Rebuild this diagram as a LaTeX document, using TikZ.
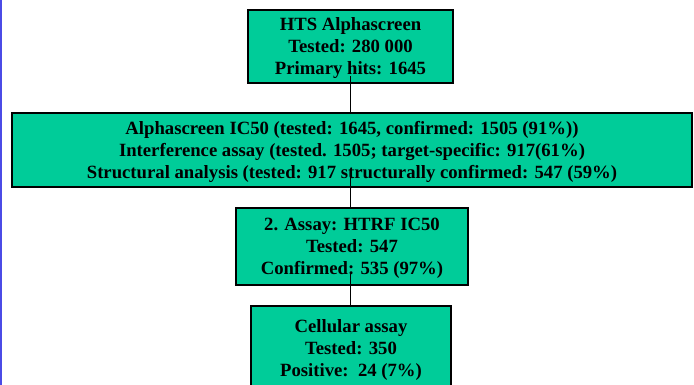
\documentclass[tikz,border=0pt]{standalone}
\usepackage{fontspec}
\setmainfont{Liberation Serif}
\definecolor{boxfill}{HTML}{00CC99}
\definecolor{edgeblue}{HTML}{4B4BE6}
\begin{document}
\begin{tikzpicture}[x=1pt,y=-1pt,
  stage/.style={draw=black, line width=2pt, fill=boxfill,
    font=\fontsize{18.7}{22}\selectfont\bfseries, align=center, inner sep=0pt,
    text depth=0pt},
  link/.style={draw=black, line width=1.2pt}]
\useasboundingbox (0,0) rectangle (694,385);
\fill[white] (0,0) rectangle (694,385);
\draw[edgeblue, line width=2pt] (1,0) -- (1,385);
\node[stage, minimum width=205, minimum height=73] (hts) at (350.5,46.5)
  {HTS Alphascreen\\Tested: 280 000\\Primary hits: 1645};
\node[stage, minimum width=680, minimum height=74] (ic) at (352,150)
  {Alphascreen IC50 (tested: 1645, confirmed: 1505 (91\%))\\
   Interference assay (tested. 1505; target-specific: 917(61\%)\\
   Structural analysis (tested: 917 structurally confirmed: 547 (59\%)};
\node[stage, minimum width=232, minimum height=77] (htrf) at (352,246.5)
  {2. Assay: HTRF IC50\\Tested: 547\\Confirmed: 535 (97\%)};
\node[stage, minimum width=200, minimum height=85] (cell) at (351,348.5)
  {Cellular assay\\Tested: 350\\Positive:\ \ 24 (7\%)};
\draw[link] ([yshift=8pt]hts.south) -- (hts.south |- ic.north);
\draw[link] ([yshift=12pt]hts.south |- ic.south) -- (hts.south |- htrf.north);
\draw[link] ([yshift=13pt]hts.south |- htrf.south) -- (hts.south |- cell.north);
\end{tikzpicture}
\end{document}
